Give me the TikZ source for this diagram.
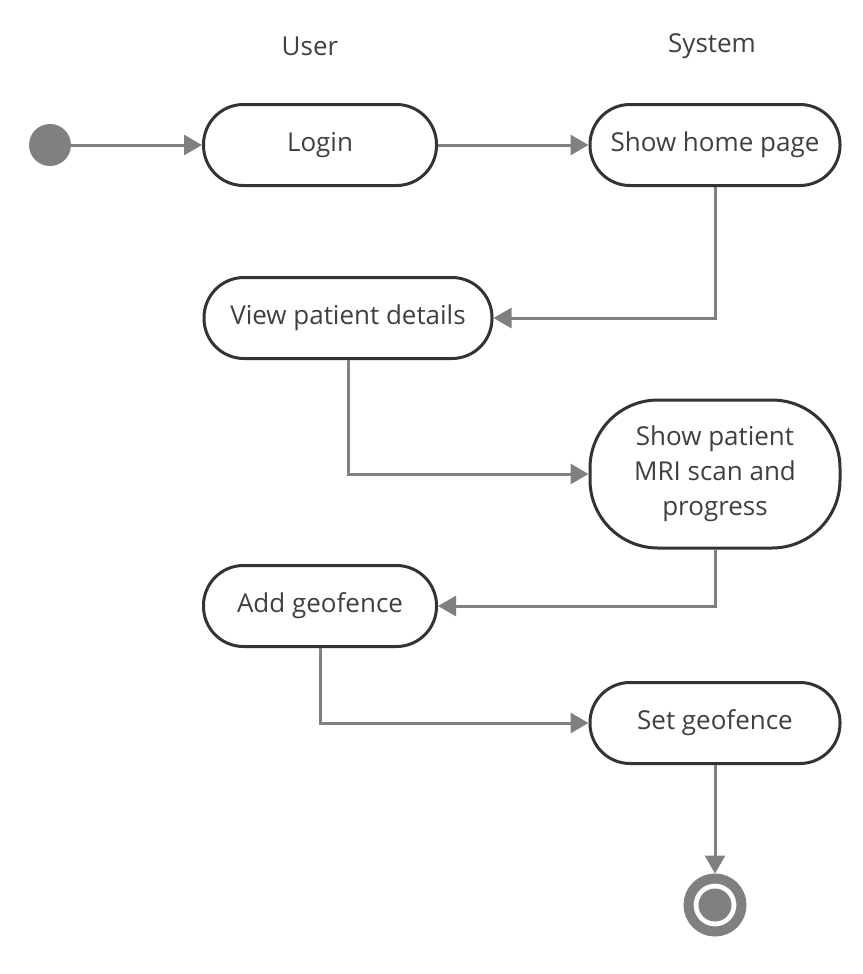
\documentclass[tikz,border=0pt]{standalone}
\usepackage{fontspec}
\setmainfont{Open Sans}
\usetikzlibrary{arrows.meta, positioning, calc}
\definecolor{linegray}{HTML}{808080}
\definecolor{boxline}{HTML}{333333}
\definecolor{txtgray}{HTML}{404040}
\begin{document}
\begin{tikzpicture}[x=1pt,y=-1pt,
    every node/.style={font=\fontsize{26}{35}\selectfont, text=txtgray},
    activity/.style={draw=boxline, line width=3pt, fill=white, rounded corners=40pt,
      minimum height=81pt, minimum width=233pt, align=center, inner sep=0pt},
    flow/.style={draw=linegray, line width=3pt, -{Triangle[length=18pt,width=20pt]}}]
      \useasboundingbox (0,0) rectangle (862,974);
      % swimlane titles
      \node (user) at (310,46) {User};
      \node (system) at (712,46) {System};
      % initial and final states
      \node[circle, fill=linegray, minimum size=42pt, inner sep=0pt] (start) at (50,145) {};
      \node[circle, draw=linegray, line width=10pt, fill=white, minimum size=53pt, inner sep=0pt] (stop) at (715,905) {};
      \fill[linegray] (stop.center) circle (16.5pt);
      % activities
      \node[activity] (login) at (320,145) {Login};
      \node[activity, minimum width=250pt] (home) at (715,145) {Show home page};
      \node[activity, minimum width=288pt] (details) at (348,318) {View patient details};
      \node[activity, minimum width=250pt, minimum height=148pt, rounded corners=68pt] (mri) at (715,474) {Show patient\\MRI scan and\\progress};
      \node[activity] (addfence) at (320,606) {Add geofence};
      \node[activity, minimum width=250pt] (setfence) at (715,723) {Set geofence};
      % transitions
      \draw[flow] (start) -- (login);
      \draw[flow] (login) -- (home);
      \draw[flow] (home.south) |- (details.east);
      \draw[flow] (details.south) |- (mri.west);
      \draw[flow] (mri.south) |- (addfence.east);
      \draw[flow] (addfence.south) |- (setfence.west);
      \draw[flow] (setfence.south) -- (stop.north);
    \end{tikzpicture}
\end{document}
